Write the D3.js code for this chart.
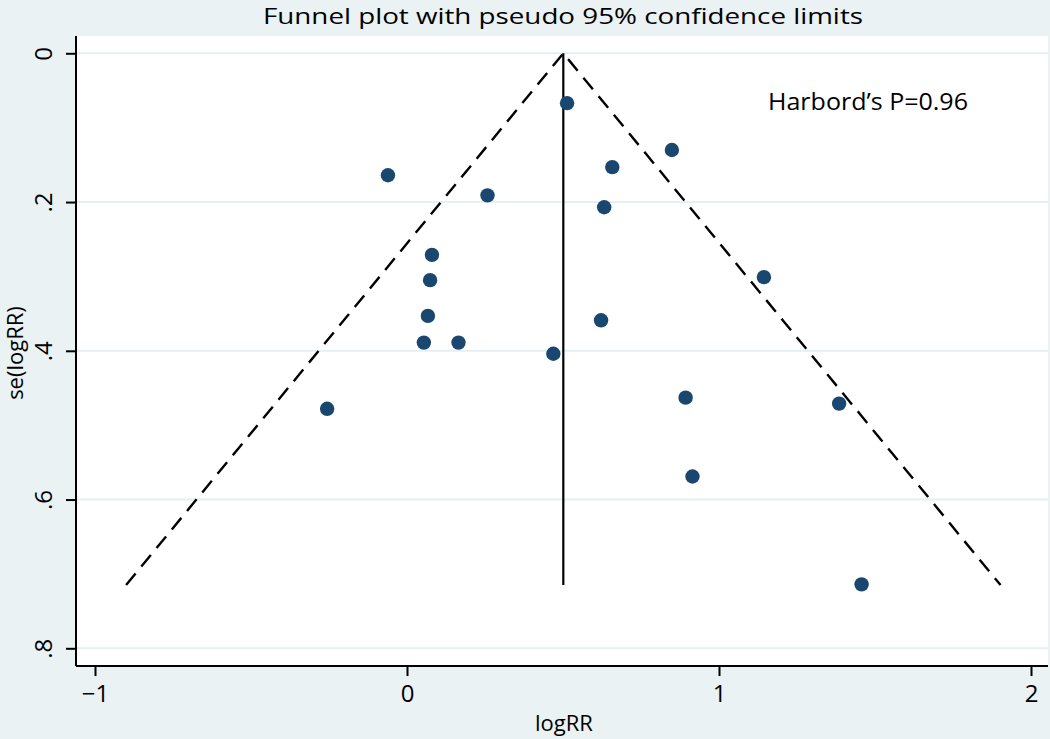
<!DOCTYPE html>
<html><head><meta charset="utf-8">
<script src="https://cdn.jsdelivr.net/npm/d3@7"></script>
<style>body{margin:0;background:#eaf2f3;} text{font-family:"Open Sans",sans-serif;fill:#000;}</style>
</head><body>
<script>
const logRR = [0.513,-0.061,0.258,0.849,0.658,0.632,0.080,0.074,0.067,0.054,0.165,0.469,0.622,1.144,-0.256,0.893,1.385,0.915,1.457];
const seLogRR = [0.067,0.164,0.191,0.130,0.153,0.207,0.271,0.305,0.353,0.389,0.389,0.404,0.359,0.301,0.478,0.463,0.471,0.569,0.714];
const pooled = 0.501;
const maxSE = 0.715;
const xTicks = [-1,0,1,2];
const yTicks = [0,0.2,0.4,0.6,0.8];
const yTickLabels = ["0",".2",".4",".6",".8"];
const title = "Funnel plot with pseudo 95% confidence limits";
const note = "Harbord\u2019s P=0.96";

const W=1050,H=739;
const svg=d3.select("body").append("svg").attr("width",W).attr("height",H);
svg.append("rect").attr("width",W).attr("height",H).attr("fill","#eaf2f3");
const L=76,R=1048,T=36,B=666;
const x=d3.scaleLinear().domain([-1,2]).range([95,1031]);
const y=d3.scaleLinear().domain([0,0.8]).range([53.3,648.3]);
svg.append("rect").attr("x",L).attr("y",T).attr("width",R-L).attr("height",B-T).attr("fill","#fff");
// grid
svg.append("g").selectAll("line").data(yTicks).join("line")
  .attr("x1",L).attr("x2",R).attr("y1",d=>y(d)).attr("y2",d=>y(d))
  .attr("stroke","#e6eff2").attr("stroke-width",2);
// funnel
const z=1.96;
svg.append("path").attr("d",d3.line()([[x(pooled-z*maxSE),y(maxSE)],[x(pooled),y(0)],[x(pooled+z*maxSE),y(maxSE)]]))
  .attr("fill","none").attr("stroke","#000").attr("stroke-width",2.4).attr("stroke-dasharray","15,9");
svg.append("line").attr("x1",x(pooled)).attr("x2",x(pooled)).attr("y1",y(0)).attr("y2",y(maxSE))
  .attr("stroke","#000").attr("stroke-width",2.2);
// points
svg.append("g").selectAll("circle").data(logRR).join("circle")
  .attr("cx",d=>x(d)).attr("cy",(d,i)=>y(seLogRR[i])).attr("r",7.2).attr("fill","#1a476f");
// axes
const xa=svg.append("g").attr("transform",`translate(0,${B})`)
  .call(d3.axisBottom(x).tickValues(xTicks).tickSize(10).tickPadding(8).tickFormat(d=>d<0?"\u2212"+Math.abs(d):d));
xa.select(".domain").attr("d",`M${L},0H${R}`).attr("stroke-width",2);
xa.selectAll(".tick line").attr("stroke-width",2);
xa.selectAll(".tick text").attr("font-size",24).attr("font-family","Open Sans").attr("dy","0.75em");
const ya=svg.append("g").attr("transform",`translate(${L},0)`)
  .call(d3.axisLeft(y).tickValues(yTicks).tickSize(10).tickFormat((d,i)=>yTickLabels[i]));
ya.select(".domain").attr("d",`M0,${T}V${B}`).attr("stroke-width",2);
ya.selectAll(".tick line").attr("stroke-width",2);
ya.selectAll(".tick text").attr("font-size",24).attr("font-family","Open Sans")
  .attr("text-anchor","middle").attr("x",0).attr("y",0).attr("dy",0).attr("transform","translate(-24,0) rotate(-90)");
// titles
svg.append("text").attr("x",563).attr("y",24).attr("text-anchor","middle").attr("font-size",22)
  .attr("textLength",600).attr("lengthAdjust","spacingAndGlyphs").text(title);
svg.append("text").attr("x",868).attr("y",110).attr("text-anchor","middle").attr("font-size",23)
  .attr("textLength",200).attr("lengthAdjust","spacingAndGlyphs").text(note);
svg.append("text").attr("x",564).attr("y",731).attr("text-anchor","middle").attr("font-size",22).text("logRR");
svg.append("text").attr("transform","translate(23,353) rotate(-90)").attr("text-anchor","middle").attr("font-size",22).text("se(logRR)");
</script>
</body></html>
